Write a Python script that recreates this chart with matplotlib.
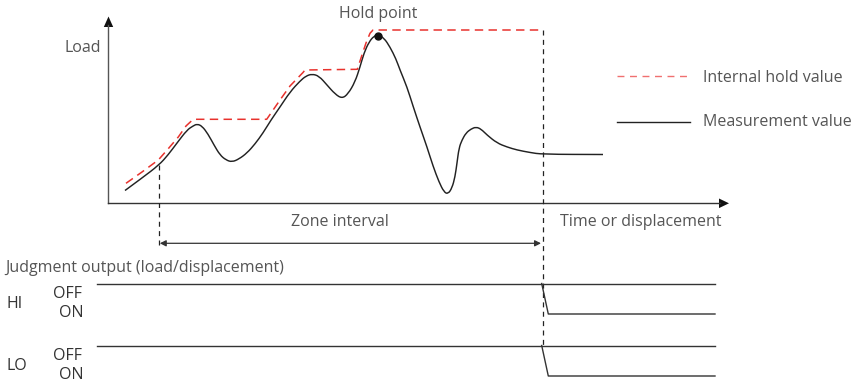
import matplotlib
matplotlib.use("Agg")
import matplotlib.pyplot as plt
from matplotlib.patches import Polygon, PathPatch
from matplotlib.path import Path

plt.rcParams['font.family'] = ['Open Sans', 'DejaVu Sans']

# ---- data (pixel-space diagram coordinates, y grows downward) ----
meas_x = [125, 142, 159, 168, 177, 187, 193, 197, 202, 208, 214, 220, 226, 232, 239, 247,
          255, 263, 271, 280, 290, 300, 306, 312, 319, 327, 335, 342, 348, 355, 360, 364,
          369, 374, 378.3, 384, 390, 396, 400, 407, 413, 420, 427, 433, 439, 444, 448, 452,
          455, 457, 459, 462, 466, 471, 476, 481, 487, 497, 507, 517, 530, 542, 603]
meas_y = [190.5, 178, 165, 155, 143, 130, 126, 124, 126, 134, 145, 155, 160, 162, 159, 153,
          144, 133, 120, 107, 92, 81, 76, 74, 76, 85, 94, 98.5, 94, 82, 67, 53,
          42, 36, 35, 38, 47, 59, 70, 87, 106, 127, 147, 166, 182, 192, 194, 188,
          177, 163, 148, 140, 133, 129, 127, 129, 135, 143, 147, 150, 152.5, 154.3, 154.5]

hold_x = [126, 142, 158.3, 168, 178.3, 186, 191.7, 194, 266.7, 280, 290, 303, 305, 357.3,
          362, 366, 370, 373, 542.3]
hold_y = [183.3, 172, 160, 149, 137, 126, 120.7, 119.3, 119.3, 100, 86, 72.5, 70, 69.3,
          55, 43, 33.3, 30, 30]

hold_point = (378.3, 36)
zone_start, zone_end = 159.3, 542.5

legend_labels = ["Internal hold value", "Measurement value"]
judge_rows = ["HI", "LO"]

TXT = '#555555'
LN = '#222222'
FS = 11.5

fig = plt.figure(figsize=(8.58, 3.81), dpi=100)
ax = fig.add_axes([0, 0, 1, 1])
ax.set_xlim(0, 858)
ax.set_ylim(381, 0)
ax.axis('off')

# axes
ax.plot([108.3, 108.3], [203.3, 25], color='#555555', lw=1.0)
ax.add_patch(Polygon([[108.5, 16.5], [103.8, 27], [113.2, 27]], closed=True, color='#111111', lw=0))
ax.plot([108.3, 720], [203.3, 203.3], color='#333333', lw=1.0)
ax.add_patch(Polygon([[729, 203.3], [719, 198.5], [719, 208.1]], closed=True, color='#111111', lw=0))

# measurement curve drawn as a smooth quadratic-Bezier path through the read points
pts = list(zip(meas_x, meas_y))
verts = [pts[0]]
codes = [Path.MOVETO]
for i in range(1, len(pts) - 1):
    mid = ((pts[i][0] + pts[i + 1][0]) / 2, (pts[i][1] + pts[i + 1][1]) / 2)
    verts += [pts[i], mid]
    codes += [Path.CURVE3, Path.CURVE3]
verts.append(pts[-1])
codes.append(Path.LINETO)
ax.add_patch(PathPatch(Path(verts, codes), facecolor='none', edgecolor=LN, lw=1.05,
                       joinstyle='round', zorder=3))

ax.plot(hold_x, hold_y, color='#e8322d', lw=1.1, dashes=(5.5, 3.5), zorder=4)
ax.plot([hold_point[0]], [hold_point[1]], 'o', color='#111111', ms=5, zorder=5)

# vertical dashed guides
ax.plot([zone_start, zone_start], [165, 248], color=LN, lw=0.9, dashes=(4, 3.5))
ax.plot([zone_end, zone_end], [30, 346], color=LN, lw=0.9, dashes=(4, 3.5))

# zone interval arrow
ax.annotate('', xy=(zone_start + 0.5, 243.3), xytext=(zone_end - 1.5, 243.3),
            arrowprops=dict(arrowstyle='<|-|>', color='#333333', lw=0.9,
                            mutation_scale=9, shrinkA=0, shrinkB=0))

# texts
ax.text(101.5, 51.7, "Load", ha='right', va='baseline', color=TXT, fontsize=FS)
ax.text(378, 18.3, "Hold point", ha='center', va='baseline', color=TXT, fontsize=FS)
ax.text(340, 226.5, "Zone interval", ha='center', va='baseline', color=TXT, fontsize=FS)
ax.text(560.5, 225.5, "Time or displacement", ha='left', va='baseline', color=TXT, fontsize=FS)

# legend
ax.plot([617, 689], [75.5, 75.5], color='#f07070', lw=1.0, dashes=(5, 4))
ax.text(703, 81.5, legend_labels[0], ha='left', va='baseline', color=TXT, fontsize=FS)
ax.plot([617, 690], [121.7, 121.7], color=LN, lw=1.0)
ax.text(703, 126.5, legend_labels[1], ha='left', va='baseline', color=TXT, fontsize=FS)

# judgment output
ax.text(5, 271.5, "Judgment output (load/displacement)", ha='left', va='baseline', color=TXT, fontsize=FS)
rows_y = [(283.5, 314.0), (345.5, 376.0)]
for name, (yoff, yon) in zip(judge_rows, rows_y):
    ax.text(7, yoff + 24.8, name, ha='left', va='baseline', color='#333333', fontsize=FS)
    ax.text(82.5, yoff + 14.3, "OFF", ha='right', va='baseline', color='#333333', fontsize=FS)
    ax.text(83.5, yon + 2.6, "ON", ha='right', va='baseline', color='#333333', fontsize=FS)
    ax.plot([97, 715], [yoff, yoff], color='#333333', lw=1.0)
    ax.plot([541.7, 548.3, 715], [yoff, yon, yon], color='#333333', lw=1.0)

fig.savefig("out.png", dpi=100)
